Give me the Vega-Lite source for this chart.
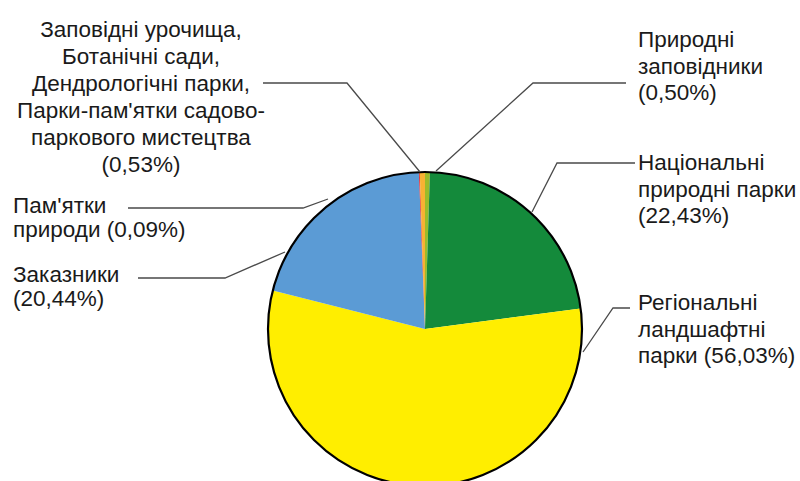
{
  "$schema": "https://vega.github.io/schema/vega-lite/v6.json",
  "width": 800,
  "height": 481,
  "autosize": {"type": "none"},
  "padding": 0,
  "background": "white",
  "config": {"view": {"stroke": null}},
  "datasets": {
    "slices": [
      {"idx": 1, "category": "Природні заповідники", "share": 0.50},
      {"idx": 2, "category": "Національні природні парки", "share": 22.43},
      {"idx": 3, "category": "Регіональні ландшафтні парки", "share": 56.03},
      {"idx": 4, "category": "Заказники", "share": 20.44},
      {"idx": 5, "category": "Пам'ятки природи", "share": 0.09},
      {"idx": 6, "category": "Заповідні урочища, ботанічні сади, дендрологічні парки, парки-пам'ятки", "share": 0.53}
    ],
    "labels": [
      {"key": "urochyshcha", "text": "Заповідні урочища,\nБотанічні сади,\nДендрологічні парки,\nПарки-пам'ятки садово-\nпаркового мистецтва\n(0,53%)", "x": 141, "y": 37},
      {"key": "zapovidnyky", "text": "Природні\nзаповідники\n(0,50%)", "x": 638, "y": 47},
      {"key": "natsionalni", "text": "Національні\nприродні парки\n(22,43%)", "x": 638, "y": 170},
      {"key": "rehionalni", "text": "Регіональні\nландшафтні\nпарки (56,03%)", "x": 638, "y": 310},
      {"key": "pamiatky", "text": "Пам'ятки\nприроди (0,09%)", "x": 13, "y": 213},
      {"key": "zakaznyky", "text": "Заказники\n(20,44%)", "x": 13, "y": 282}
    ],
    "leaders": [
      {"id": "urochyshcha", "seq": 1, "x": 263, "y": 83},
      {"id": "urochyshcha", "seq": 2, "x": 347, "y": 83},
      {"id": "urochyshcha", "seq": 3, "x": 420, "y": 172},
      {"id": "zapovidnyky", "seq": 1, "x": 626, "y": 83},
      {"id": "zapovidnyky", "seq": 2, "x": 533, "y": 83},
      {"id": "zapovidnyky", "seq": 3, "x": 436, "y": 171},
      {"id": "natsionalni", "seq": 1, "x": 635, "y": 163},
      {"id": "natsionalni", "seq": 2, "x": 557, "y": 163},
      {"id": "natsionalni", "seq": 3, "x": 532, "y": 212},
      {"id": "rehionalni", "seq": 1, "x": 630, "y": 308},
      {"id": "rehionalni", "seq": 2, "x": 613, "y": 308},
      {"id": "rehionalni", "seq": 3, "x": 583, "y": 352},
      {"id": "pamiatky", "seq": 1, "x": 128, "y": 208},
      {"id": "pamiatky", "seq": 2, "x": 303, "y": 208},
      {"id": "pamiatky", "seq": 3, "x": 328, "y": 199},
      {"id": "zakaznyky", "seq": 1, "x": 138, "y": 278},
      {"id": "zakaznyky", "seq": 2, "x": 225, "y": 278},
      {"id": "zakaznyky", "seq": 3, "x": 285, "y": 252}
    ]
  },
  "layer": [
    {
      "data": {"name": "slices"},
      "mark": {"type": "arc", "outerRadius": 157},
      "encoding": {
        "theta": {"field": "share", "type": "quantitative", "stack": true},
        "order": {"field": "idx", "type": "quantitative"},
        "color": {
          "field": "category",
          "type": "nominal",
          "legend": null,
          "scale": {
            "domain": ["Природні заповідники", "Національні природні парки", "Регіональні ландшафтні парки", "Заказники", "Пам'ятки природи", "Заповідні урочища, ботанічні сади, дендрологічні парки, парки-пам'ятки"],
            "range": ["#9BBB2A", "#148A3B", "#FFEE00", "#5B9BD5", "#E31E24", "#F7B233"]
          }
        },
        "x": {"datum": 425, "type": "quantitative", "scale": {"domain": [0, 800], "nice": false, "zero": false}, "axis": null},
        "y": {"datum": 329, "type": "quantitative", "scale": {"domain": [0, 481], "nice": false, "zero": false, "reverse": true}, "axis": null}
      }
    },
    {
      "data": {"values": [{"outline": "pie"}]},
      "mark": {"type": "arc", "theta": 0, "theta2": 6.2832, "outerRadius": 157, "fill": null, "fillOpacity": 0, "stroke": "#000000", "strokeWidth": 2.2},
      "encoding": {
        "x": {"datum": 425, "type": "quantitative"},
        "y": {"datum": 329, "type": "quantitative"}
      }
    },
    {
      "data": {"name": "leaders"},
      "mark": {"type": "line", "color": "#4a4a4a", "strokeWidth": 1.3},
      "encoding": {
        "x": {"field": "x", "type": "quantitative"},
        "y": {"field": "y", "type": "quantitative"},
        "detail": {"field": "id"},
        "order": {"field": "seq", "type": "quantitative"}
      }
    },
    {
      "data": {"name": "labels"},
      "transform": [{"filter": {"field": "key", "equal": "urochyshcha"}}],
      "mark": {"type": "text", "align": "center", "baseline": "alphabetic", "lineBreak": "\n", "lineHeight": 27, "font": "Liberation Sans", "fontSize": 22.5, "color": "#1a1a1a"},
      "encoding": {
        "x": {"field": "x", "type": "quantitative"},
        "y": {"field": "y", "type": "quantitative"},
        "text": {"field": "text"}
      }
    },
    {
      "data": {"name": "labels"},
      "transform": [{"filter": {"field": "key", "oneOf": ["zapovidnyky", "natsionalni", "rehionalni"]}}],
      "mark": {"type": "text", "align": "left", "baseline": "alphabetic", "lineBreak": "\n", "lineHeight": 26.5, "font": "Liberation Sans", "fontSize": 22.5, "color": "#1a1a1a"},
      "encoding": {
        "x": {"field": "x", "type": "quantitative"},
        "y": {"field": "y", "type": "quantitative"},
        "text": {"field": "text"}
      }
    },
    {
      "data": {"name": "labels"},
      "transform": [{"filter": {"field": "key", "oneOf": ["pamiatky", "zakaznyky"]}}],
      "mark": {"type": "text", "align": "left", "baseline": "alphabetic", "lineBreak": "\n", "lineHeight": 24, "font": "Liberation Sans", "fontSize": 22.5, "color": "#1a1a1a"},
      "encoding": {
        "x": {"field": "x", "type": "quantitative"},
        "y": {"field": "y", "type": "quantitative"},
        "text": {"field": "text"}
      }
    }
  ]
}
